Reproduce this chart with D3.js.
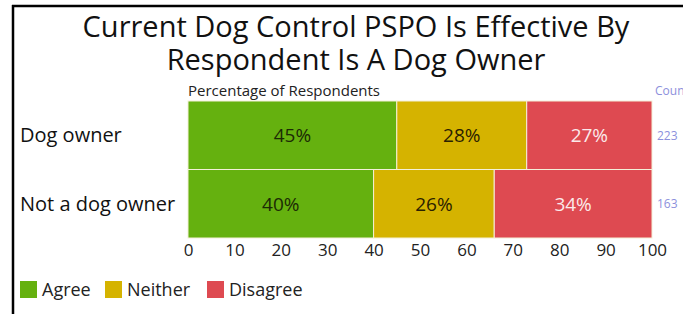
<!DOCTYPE html>
<html>
<head>
<meta charset="utf-8">
<script src="https://cdn.jsdelivr.net/npm/d3@7"></script>
<style>
  body { margin: 0; background: #fff; }
  text { font-family: "Open Sans", "Noto Sans", sans-serif; }
</style>
</head>
<body>
<svg id="chart" width="683" height="314"></svg>
<script>
// DATA
const categories = ["Dog owner", "Not a dog owner"];
const responses = ["Agree", "Neither", "Disagree"];
const agreeValues = [45, 40];
const neitherValues = [28, 26];
const disagreeValues = [27, 34];
const counts = [223, 163];
const xTicks = [0, 10, 20, 30, 40, 50, 60, 70, 80, 90, 100];

const colors = ["#65b10f", "#d5b300", "#de4a51"];
const labelColors = ["#1c2a05", "#2a2100", "#fbe9ea"];

// CANVAS SETUP
const svg = d3.select("#chart");
const margin = { top: 101, right: 31, bottom: 76, left: 188 };
const width = 683 - margin.left - margin.right,
  height = 314 - margin.top - margin.bottom;

// frame lines
svg.append("line").attr("x1", 13).attr("x2", 13).attr("y1", 5).attr("y2", 314)
  .attr("stroke", "#000").attr("stroke-width", 2.5);
svg.append("line").attr("x1", 12).attr("x2", 683).attr("y1", 6).attr("y2", 6)
  .attr("stroke", "#000").attr("stroke-width", 2.5);

// title
const titleLines = ["Current Dog Control PSPO Is Effective By", "Respondent Is A Dog Owner"];
svg.selectAll(".title")
  .data(titleLines)
  .join("text")
  .attr("class", "title")
  .attr("text-anchor", "middle")
  .attr("x", 356)
  .attr("y", (d, i) => 37 + i * 33)
  .attr("fill", "#111")
  .style("font-size", "29px")
  .text((d) => d);

const g = svg.append("g").attr("transform", `translate(${margin.left},${margin.top})`);

const x = d3.scaleLinear().domain([0, 100]).range([0, width]);
const y = d3.scaleBand().domain(categories).range([0, height]).padding(0);

const rows = categories.map((c, i) => ({
  category: c,
  Agree: agreeValues[i],
  Neither: neitherValues[i],
  Disagree: disagreeValues[i],
}));
const stack = d3.stack().keys(responses)(rows);

stack.forEach((series, si) => {
  const grp = g.append("g");
  grp.selectAll("rect")
    .data(series)
    .join("rect")
    .attr("x", (d) => x(d[0]))
    .attr("y", (d) => y(d.data.category))
    .attr("width", (d) => x(d[1]) - x(d[0]))
    .attr("height", y.bandwidth())
    .attr("fill", colors[si])
    .attr("stroke", "#f4f0d8")
    .attr("stroke-width", 1);
  grp.selectAll("text")
    .data(series)
    .join("text")
    .attr("x", (d) => (x(d[0]) + x(d[1])) / 2)
    .attr("y", (d) => y(d.data.category) + y.bandwidth() / 2)
    .attr("dy", "0.36em")
    .attr("text-anchor", "middle")
    .attr("fill", labelColors[si])
    .style("font-size", "19px")
    .text((d) => `${d[1] - d[0]}%`);
});

// x axis
const gx = g.append("g").attr("transform", `translate(0,${height})`)
  .call(d3.axisBottom(x).tickValues(xTicks).tickSize(0).tickPadding(6));
gx.select(".domain").remove();
gx.selectAll("text").style("font-size", "17px").attr("fill", "#222")
  .style("font-family", "'Open Sans', sans-serif");

// category labels
g.selectAll(".cat")
  .data(categories)
  .join("text")
  .attr("class", "cat")
  .attr("x", 20 - margin.left)
  .attr("y", (d) => y(d) + y.bandwidth() / 2)
  .attr("dy", "0.36em")
  .attr("fill", "#111")
  .style("font-size", "20px")
  .text((d) => d);

// axis title
g.append("text").attr("x", 0).attr("y", -5)
  .attr("fill", "#222").style("font-size", "15px")
  .text("Percentage of Respondents");

// counts
g.append("text").attr("x", width + 3).attr("y", -6)
  .attr("fill", "#8c90dc").style("font-size", "12px").text("Count");
g.selectAll(".count")
  .data(counts)
  .join("text")
  .attr("class", "count")
  .attr("x", width + 5)
  .attr("y", (d, i) => y(categories[i]) + y.bandwidth() / 2)
  .attr("dy", "0.36em")
  .attr("fill", "#8c90dc")
  .style("font-size", "12px")
  .text((d) => d);

// legend
const legendX = [20, 105, 207];
const lg = svg.append("g").attr("transform", "translate(0,281)");
responses.forEach((r, i) => {
  lg.append("rect").attr("x", legendX[i]).attr("y", 0)
    .attr("width", 17).attr("height", 17).attr("fill", colors[i]);
  lg.append("text").attr("x", legendX[i] + 22).attr("y", 15)
    .attr("fill", "#222").style("font-size", "18px").text(r);
});
</script>
</body>
</html>
